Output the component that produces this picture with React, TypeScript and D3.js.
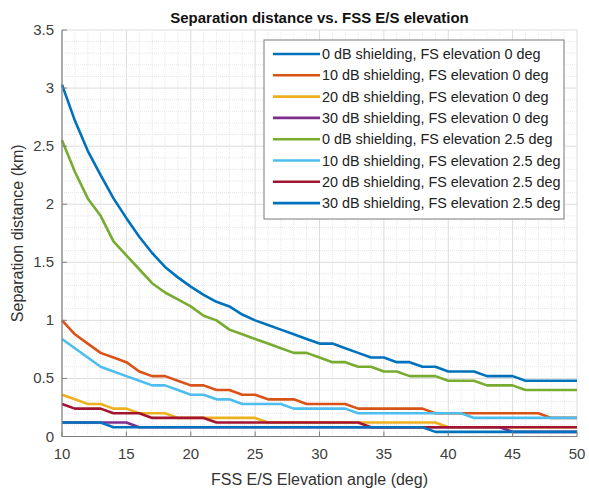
import React from "react";
import * as d3 from "d3";

const elevation = d3.range(10, 51);
const seriesNames = [
  "0 dB shielding, FS elevation 0 deg",
  "10 dB shielding, FS elevation 0 deg",
  "20 dB shielding, FS elevation 0 deg",
  "30 dB shielding, FS elevation 0 deg",
  "0 dB shielding, FS elevation 2.5 deg",
  "10 dB shielding, FS elevation 2.5 deg",
  "20 dB shielding, FS elevation 2.5 deg",
  "30 dB shielding, FS elevation 2.5 deg",
];
const seriesColors = ["#0072BD", "#D95319", "#EDB120", "#7E2F8E", "#77AC30", "#4DBEEE", "#A2142F", "#0072BD"];

const s0dB_fs0 = [3.03, 2.72, 2.46, 2.25, 2.05, 1.88, 1.72, 1.58, 1.46, 1.37, 1.29, 1.22, 1.16, 1.12, 1.05, 1.0, 0.96, 0.92, 0.88, 0.84, 0.8, 0.8, 0.76, 0.72, 0.68, 0.68, 0.64, 0.64, 0.6, 0.6, 0.56, 0.56, 0.56, 0.52, 0.52, 0.52, 0.48, 0.48, 0.48, 0.48, 0.48];
const s10dB_fs0 = [1.0, 0.88, 0.8, 0.72, 0.68, 0.64, 0.56, 0.52, 0.52, 0.48, 0.44, 0.44, 0.4, 0.4, 0.36, 0.36, 0.32, 0.32, 0.32, 0.28, 0.28, 0.28, 0.28, 0.24, 0.24, 0.24, 0.24, 0.24, 0.24, 0.2, 0.2, 0.2, 0.2, 0.2, 0.2, 0.2, 0.2, 0.2, 0.16, 0.16, 0.16];
const s20dB_fs0 = [0.36, 0.32, 0.28, 0.28, 0.24, 0.24, 0.2, 0.2, 0.2, 0.16, 0.16, 0.16, 0.16, 0.16, 0.16, 0.16, 0.12, 0.12, 0.12, 0.12, 0.12, 0.12, 0.12, 0.12, 0.12, 0.12, 0.12, 0.12, 0.12, 0.12, 0.08, 0.08, 0.08, 0.08, 0.08, 0.08, 0.08, 0.08, 0.08, 0.08, 0.08];
const s30dB_fs0 = [0.12, 0.12, 0.12, 0.12, 0.12, 0.12, 0.08, 0.08, 0.08, 0.08, 0.08, 0.08, 0.08, 0.08, 0.08, 0.08, 0.08, 0.08, 0.08, 0.08, 0.08, 0.08, 0.08, 0.08, 0.08, 0.08, 0.08, 0.08, 0.08, 0.08, 0.08, 0.08, 0.08, 0.08, 0.08, 0.04, 0.04, 0.04, 0.04, 0.04, 0.04];
const s0dB_fs25 = [2.55, 2.28, 2.05, 1.9, 1.68, 1.56, 1.44, 1.32, 1.24, 1.18, 1.12, 1.04, 1.0, 0.92, 0.88, 0.84, 0.8, 0.76, 0.72, 0.72, 0.68, 0.64, 0.64, 0.6, 0.6, 0.56, 0.56, 0.52, 0.52, 0.52, 0.48, 0.48, 0.48, 0.44, 0.44, 0.44, 0.4, 0.4, 0.4, 0.4, 0.4];
const s10dB_fs25 = [0.84, 0.76, 0.68, 0.6, 0.56, 0.52, 0.48, 0.44, 0.44, 0.4, 0.36, 0.36, 0.32, 0.32, 0.28, 0.28, 0.28, 0.28, 0.24, 0.24, 0.24, 0.24, 0.24, 0.2, 0.2, 0.2, 0.2, 0.2, 0.2, 0.2, 0.2, 0.2, 0.16, 0.16, 0.16, 0.16, 0.16, 0.16, 0.16, 0.16, 0.16];
const s20dB_fs25 = [0.28, 0.24, 0.24, 0.24, 0.2, 0.2, 0.2, 0.16, 0.16, 0.16, 0.16, 0.16, 0.12, 0.12, 0.12, 0.12, 0.12, 0.12, 0.12, 0.12, 0.12, 0.12, 0.12, 0.12, 0.08, 0.08, 0.08, 0.08, 0.08, 0.08, 0.08, 0.08, 0.08, 0.08, 0.08, 0.08, 0.08, 0.08, 0.08, 0.08, 0.08];
const s30dB_fs25 = [0.12, 0.12, 0.12, 0.12, 0.08, 0.08, 0.08, 0.08, 0.08, 0.08, 0.08, 0.08, 0.08, 0.08, 0.08, 0.08, 0.08, 0.08, 0.08, 0.08, 0.08, 0.08, 0.08, 0.08, 0.08, 0.08, 0.08, 0.08, 0.08, 0.04, 0.04, 0.04, 0.04, 0.04, 0.04, 0.04, 0.04, 0.04, 0.04, 0.04, 0.04];

const allSeries = [s0dB_fs0, s10dB_fs0, s20dB_fs0, s30dB_fs0, s0dB_fs25, s10dB_fs25, s20dB_fs25, s30dB_fs25];

const xTicks = [10, 15, 20, 25, 30, 35, 40, 45, 50];
const yTicks = [0, 0.5, 1, 1.5, 2, 2.5, 3, 3.5];

export default function App() {
  const W = 589, H = 489;
  const left = 62, right = 577, top = 30, bottom = 436.5;
  const x = d3.scaleLinear().domain([10, 50]).range([left, right]);
  const y = d3.scaleLinear().domain([0, 3.5]).range([bottom, top]);
  const font = "'Liberation Sans', Arial, Helvetica, sans-serif";
  const minorX = d3.range(10, 50.01, 1).filter((v) => v % 5 !== 0);
  const minorY = d3.range(0, 3.501, 0.1).filter((v) => Math.abs(v * 2 - Math.round(v * 2)) > 1e-6);
  const line = d3.line<number>().x((_, i) => x(elevation[i])).y((d) => y(d));

  const legX = 264, legY = 40, legW = 300, legH = 179;
  return (
    <svg width={W} height={H} style={{ position: "absolute", left: 0, top: 0, background: "#fff" }}>
      <rect x={0} y={0} width={W} height={H} fill="#fff" />
      {minorX.map((v) => (
        <line key={"mx" + v} x1={x(v)} x2={x(v)} y1={top} y2={bottom} stroke="#e6e6e6" strokeWidth={1} strokeDasharray="1,1" />
      ))}
      {minorY.map((v) => (
        <line key={"my" + v} x1={left} x2={right} y1={y(v)} y2={y(v)} stroke="#e6e6e6" strokeWidth={1} strokeDasharray="1,1" />
      ))}
      {xTicks.map((v) => (
        <line key={"gx" + v} x1={x(v)} x2={x(v)} y1={top} y2={bottom} stroke="#dcdcdc" strokeWidth={1} />
      ))}
      {yTicks.map((v) => (
        <line key={"gy" + v} x1={left} x2={right} y1={y(v)} y2={y(v)} stroke="#dcdcdc" strokeWidth={1} />
      ))}
      {allSeries.map((s, i) => (
        <path key={"s" + i} d={line(s) || ""} fill="none" stroke={seriesColors[i]} strokeWidth={2.6} strokeLinejoin="round" />
      ))}
      <line x1={left} x2={left} y1={top} y2={bottom} stroke="#808080" strokeWidth={1.2} />
      <line x1={left} x2={right} y1={bottom} y2={bottom} stroke="#808080" strokeWidth={1.2} />
      {xTicks.map((v) => (
        <g key={"xt" + v}>
          <line x1={x(v)} x2={x(v)} y1={bottom} y2={bottom - 5} stroke="#808080" strokeWidth={1} />
          <text x={x(v)} y={459} textAnchor="middle" fontFamily={font} fontSize={15} fill="#404040">{v}</text>
        </g>
      ))}
      {yTicks.map((v) => (
        <g key={"yt" + v}>
          <line x1={left} x2={left + 5} y1={y(v)} y2={y(v)} stroke="#808080" strokeWidth={1} />
          <text x={54} y={y(v) + 5} textAnchor="end" fontFamily={font} fontSize={15} fill="#404040">{v}</text>
        </g>
      ))}
      <text x={(left + right) / 2} y={23} textAnchor="middle" fontFamily={font} fontSize={15} fontWeight="bold" fill="#111">
        Separation distance vs. FSS E/S elevation
      </text>
      <text x={(left + right) / 2} y={485} textAnchor="middle" fontFamily={font} fontSize={16} fill="#333">
        FSS E/S Elevation angle (deg)
      </text>
      <text transform={`translate(23, ${(top + bottom) / 2}) rotate(-90)`} textAnchor="middle" fontFamily={font} fontSize={16} fill="#333">
        Separation distance (km)
      </text>
      <rect x={legX} y={legY} width={legW} height={legH} fill="#fff" stroke="#7a7a7a" strokeWidth={1} />
      {seriesNames.map((n, i) => {
        const ly = 54 + i * 21.3;
        return (
          <g key={"lg" + i}>
            <line x1={273} x2={320} y1={ly} y2={ly} stroke={seriesColors[i]} strokeWidth={2.6} />
            <text x={322} y={ly + 5} fontFamily={font} fontSize={14.4} fill="#222">{n}</text>
          </g>
        );
      })}
    </svg>
  );
}
